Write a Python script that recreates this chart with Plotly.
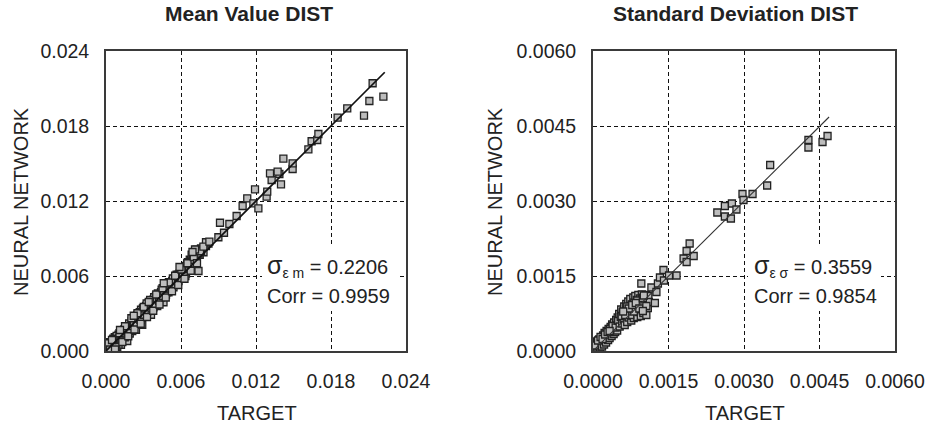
import plotly.graph_objects as go

# ---------------- data ----------------
mean_target = [
    0.0000, 0.0001, 0.0002, 0.0003, 0.0004, 0.0005, 0.0006, 0.0007, 0.0008, 0.0009,
    0.0010, 0.0011, 0.0012, 0.0013, 0.0014, 0.0015, 0.0016, 0.0017, 0.0018, 0.0019,
    0.0020, 0.0021, 0.0022, 0.0023, 0.0024, 0.0025, 0.0026, 0.0027, 0.0028, 0.0029,
    0.0030, 0.0031, 0.0032, 0.0033, 0.0034, 0.0035, 0.0036, 0.0037, 0.0038, 0.0039,
    0.0040, 0.0041, 0.0042, 0.0043, 0.0044, 0.0045, 0.0046, 0.0047, 0.0048, 0.0049,
    0.0050, 0.0051, 0.0052, 0.0053, 0.0054, 0.0055, 0.0056, 0.0057, 0.0058, 0.0059,
    0.0060, 0.0061, 0.0062, 0.0063, 0.0064, 0.0065, 0.0066, 0.0067, 0.0068, 0.0069,
    0.0070, 0.0071, 0.0072, 0.0073, 0.0074, 0.0075, 0.0076, 0.0078, 0.0080, 0.0082,
    0.0003, 0.0005, 0.0008, 0.0010, 0.0012, 0.0015, 0.0017, 0.0020, 0.0022, 0.0024,
    0.0026, 0.0028, 0.0030, 0.0032, 0.0034, 0.0036, 0.0038, 0.0040, 0.0042, 0.0044,
    0.0046, 0.0048, 0.0050, 0.0052, 0.0054, 0.0056, 0.0058, 0.0060, 0.0062, 0.0064,
    0.0066, 0.0068, 0.0070,
    0.00005, 0.00015, 0.00025, 0.00035, 0.00045, 0.00055, 0.00065, 0.00075, 0.00085, 0.00095,
    0.00105, 0.00115, 0.00125, 0.00135, 0.00145, 0.00155, 0.00165, 0.00175, 0.00185, 0.00195,
    0.00205, 0.00215, 0.00225, 0.00235, 0.00245, 0.00255, 0.00265, 0.00275, 0.00285, 0.00295,
    0.00305, 0.00315, 0.00325, 0.00335, 0.00345, 0.00355, 0.00365, 0.00375, 0.00385, 0.00395,
    0.00405, 0.00415, 0.00425, 0.00435, 0.00445, 0.00455, 0.00465, 0.00475, 0.00485, 0.00495,
    0.00505, 0.00515, 0.00525, 0.00535, 0.00545, 0.00555, 0.00565, 0.00575, 0.00585, 0.00595,
    0.00605, 0.00615, 0.00625, 0.00635, 0.00645, 0.00655, 0.00665, 0.00675, 0.00685, 0.00695,
    0.00705, 0.00715, 0.00725, 0.00740, 0.00760, 0.00800,
    0.00012, 0.00033, 0.00058, 0.00082, 0.00108, 0.00131, 0.00152, 0.00178, 0.00203, 0.00228,
    0.00252, 0.00278, 0.00302, 0.00328, 0.00353, 0.00378, 0.00402, 0.00428, 0.00453, 0.00478,
    0.00503, 0.00528, 0.00553, 0.00578, 0.00603, 0.00628, 0.00652, 0.00678, 0.00702, 0.00728,
    0.00752, 0.00712, 0.00692, 0.00588, 0.00462, 0.00342, 0.00222, 0.00112, 0.00048, 0.00072,
    0.00779, 0.00827, 0.00899, 0.00944, 0.00987, 0.00912, 0.01045, 0.01093, 0.01130,
    0.01179, 0.01219, 0.01192, 0.01285, 0.01290, 0.01400, 0.01325, 0.01387, 0.01312,
    0.01373, 0.01493, 0.01493, 0.01419, 0.01619, 0.01645, 0.01690, 0.01699, 0.01853,
    0.01930, 0.02064, 0.02107, 0.02219, 0.02133,
]
mean_nn = [
    0.0001, 0.0003, 0.0000, 0.0005, 0.0002, 0.0008, 0.0004, 0.0011, 0.0006, 0.0003,
    0.0013, 0.0008, 0.0005, 0.0015, 0.0010, 0.0017, 0.0012, 0.0008, 0.0019, 0.0014,
    0.0021, 0.0016, 0.0025, 0.0019, 0.0017, 0.0029, 0.0023, 0.0031, 0.0026, 0.0021,
    0.0034, 0.0028, 0.0036, 0.0031, 0.0038, 0.0033, 0.0029, 0.0040, 0.0035, 0.0042,
    0.0038, 0.0036, 0.0045, 0.0040, 0.0047, 0.0043, 0.0039, 0.0050, 0.0045, 0.0051,
    0.0047, 0.0054, 0.0049, 0.0056, 0.0051, 0.0058, 0.0053, 0.0060, 0.0056, 0.0062,
    0.0058, 0.0064, 0.0060, 0.0067, 0.0062, 0.0070, 0.0065, 0.0073, 0.0069, 0.0076,
    0.0071, 0.0078, 0.0074, 0.0080, 0.0064, 0.0077, 0.0082, 0.0079, 0.0084, 0.0086,
    0.0000, 0.0002, 0.0010, 0.0005, 0.0012, 0.0011, 0.0015, 0.0018, 0.0020, 0.0027,
    0.0028, 0.0033, 0.0030, 0.0032, 0.0034, 0.0037, 0.0041, 0.0044, 0.0041, 0.0043,
    0.0048, 0.0049, 0.0052, 0.0055, 0.0056, 0.0059, 0.0061, 0.0063, 0.0066, 0.0068,
    0.0068, 0.0072, 0.0075,
    0.0004, 0.0001, 0.0007, 0.0003, 0.0006, 0.0001, 0.0009, 0.0005, 0.0012, 0.0008,
    0.0010, 0.0014, 0.0009, 0.0012, 0.0017, 0.0014, 0.0018, 0.0013, 0.0022, 0.0017,
    0.0024, 0.0020, 0.0022, 0.0027, 0.0022, 0.0026, 0.0030, 0.0025, 0.0031, 0.0034,
    0.0029, 0.0034, 0.0038, 0.0032, 0.0036, 0.0040, 0.0034, 0.0038, 0.0043, 0.0037,
    0.0042, 0.0046, 0.0040, 0.0045, 0.0049, 0.0044, 0.0048, 0.0053, 0.0047, 0.0050,
    0.0055, 0.0050, 0.0053, 0.0058, 0.0053, 0.0056, 0.0061, 0.0055, 0.0059, 0.0064,
    0.0058, 0.0062, 0.0065, 0.0060, 0.0066, 0.0071, 0.0067, 0.0070, 0.0077, 0.0073,
    0.0079, 0.0076, 0.0081, 0.0078, 0.0080, 0.0087,
    0.00062, 0.00012, 0.00098, 0.00032, 0.00142, 0.00072, 0.00198, 0.00118, 0.00262, 0.00172,
    0.00302, 0.00218, 0.00352, 0.00272, 0.00408, 0.00322, 0.00452, 0.00372, 0.00502, 0.00428,
    0.00548, 0.00478, 0.00602, 0.00528, 0.00652, 0.00578, 0.00702, 0.00642, 0.00752, 0.00702,
    0.00798, 0.00812, 0.00792, 0.00672, 0.00542, 0.00392, 0.00282, 0.00168, 0.00088, 0.00012,
    0.00835, 0.00875, 0.00910, 0.00946, 0.01016, 0.01026, 0.01080, 0.01160, 0.01221,
    0.01181, 0.01141, 0.01293, 0.01235, 0.01275, 0.01333, 0.01368, 0.01416, 0.01421,
    0.01435, 0.01456, 0.01501, 0.01539, 0.01613, 0.01678, 0.01688, 0.01736, 0.01867,
    0.01941, 0.01883, 0.02000, 0.02035, 0.02142,
]
mean_fit_x = [0.0, 0.0223]
mean_fit_y = [0.0, 0.0223]

std_target = [
    # lower band
    0.00000, 0.00002, 0.00004, 0.00005, 0.00007, 0.00008, 0.00009, 0.00011, 0.00012, 0.00013,
    0.00014, 0.00016, 0.00017, 0.00018, 0.00020, 0.00021, 0.00022, 0.00023, 0.00025, 0.00026,
    0.00027, 0.00028, 0.00030, 0.00031, 0.00032, 0.00033, 0.00035, 0.00036, 0.00037, 0.00038,
    0.00040, 0.00041, 0.00042, 0.00043, 0.00044, 0.00046, 0.00047, 0.00048, 0.00049,
    0.00003, 0.00010, 0.00015, 0.00019, 0.00024, 0.00029, 0.00034, 0.00039, 0.00045, 0.00033,
    # blob
    0.00050, 0.00052, 0.00053, 0.00055, 0.00056, 0.00058, 0.00059, 0.00061, 0.00062, 0.00063,
    0.00065, 0.00066, 0.00067, 0.00068, 0.00070, 0.00071, 0.00072, 0.00073, 0.00074, 0.00076,
    0.00077, 0.00078, 0.00079, 0.00080, 0.00081, 0.00082, 0.00083, 0.00084, 0.00085, 0.00086,
    0.00087, 0.00088, 0.00089, 0.00090, 0.00091, 0.00092, 0.00093, 0.00094, 0.00095, 0.00096,
    0.00097, 0.00098, 0.00099, 0.00100, 0.00101, 0.00102, 0.00103, 0.00104, 0.00105, 0.00106,
    0.00107, 0.00108, 0.00109, 0.00110, 0.00111, 0.00068, 0.00074, 0.00081, 0.00088, 0.00095,
    0.00057, 0.00064, 0.00071, 0.00078, 0.00085, 0.00092, 0.00099, 0.00106, 0.00099, 0.00060,
    # sparse
    0.00096, 0.00101, 0.00116, 0.00126, 0.00123, 0.00129, 0.00133, 0.00141, 0.00140, 0.00151,
    0.00166, 0.00180, 0.00186, 0.00186, 0.00192, 0.00200, 0.00247, 0.00262, 0.00262, 0.00274,
    0.00276, 0.00285, 0.00297, 0.00299, 0.00317, 0.00346, 0.00352, 0.00428, 0.00428, 0.00456,
    0.00466,
]
std_nn = [
    0.00000, 0.00006, 0.00001, 0.00013, 0.00004, 0.00019, 0.00010, 0.00002, 0.00023, 0.00014,
    0.00007, 0.00026, 0.00017, 0.00009, 0.00031, 0.00021, 0.00013, 0.00036, 0.00026, 0.00017,
    0.00040, 0.00031, 0.00022, 0.00044, 0.00035, 0.00026, 0.00048, 0.00039, 0.00030, 0.00053,
    0.00043, 0.00034, 0.00057, 0.00047, 0.00038, 0.00062, 0.00051, 0.00041, 0.00067,
    0.00011, 0.00021, 0.00028, 0.00024, 0.00033, 0.00038, 0.00044, 0.00050, 0.00047, 0.00040,
    0.00061, 0.00074, 0.00049, 0.00068, 0.00083, 0.00055, 0.00077, 0.00064, 0.00089, 0.00052,
    0.00071, 0.00094, 0.00082, 0.00058, 0.00099, 0.00067, 0.00087, 0.00076, 0.00104, 0.00061,
    0.00093, 0.00071, 0.00081, 0.00107, 0.00066, 0.00097, 0.00086, 0.00110, 0.00075, 0.00091,
    0.00102, 0.00068, 0.00083, 0.00112, 0.00095, 0.00078, 0.00105, 0.00088, 0.00070, 0.00100,
    0.00113, 0.00084, 0.00094, 0.00076, 0.00108, 0.00089, 0.00099, 0.00082, 0.00112, 0.00072,
    0.00094, 0.00104, 0.00086, 0.00110, 0.00098, 0.00089, 0.00072, 0.00079, 0.00101, 0.00091,
    0.00070, 0.00072, 0.00085, 0.00092, 0.00096, 0.00085, 0.00106, 0.00090, 0.00080, 0.00079,
    0.00135, 0.00111, 0.00127, 0.00118, 0.00096, 0.00135, 0.00147, 0.00141, 0.00162, 0.00151,
    0.00151, 0.00185, 0.00178, 0.00200, 0.00215, 0.00190, 0.00277, 0.00290, 0.00269, 0.00265,
    0.00295, 0.00283, 0.00314, 0.00302, 0.00314, 0.00331, 0.00372, 0.00407, 0.00422, 0.00418,
    0.00430,
]
std_fit_x = [0.0, 0.00469]
std_fit_y = [0.0, 0.00468]

mean_ticks = [0.0, 0.006, 0.012, 0.018, 0.024]
mean_ticktext = ["0.000", "0.006", "0.012", "0.018", "0.024"]
std_ticks = [0.0, 0.0015, 0.003, 0.0045, 0.006]
std_ticktext = ["0.0000", "0.0015", "0.0030", "0.0045", "0.0060"]

titles = ["Mean Value DIST", "Standard Deviation DIST"]
stat_sigma = ["ε m", "ε σ"]
stat_values = ["0.2206", "0.3559"]
stat_corr = ["0.9959", "0.9854"]

# ---------------- figure ----------------
W, H = 925, 431
FONT = "Liberation Sans, Arial, sans-serif"
TXT = "#222222"


def px(x):
    return x / W


def py(y):
    return 1 - y / H


fig = go.Figure()
marker = dict(symbol="square", size=7, color="#bdbdbd",
              line=dict(color="#222222", width=1.3))

fig.add_trace(go.Scatter(x=mean_target, y=mean_nn, mode="markers", marker=marker,
                         xaxis="x", yaxis="y", showlegend=False))
fig.add_trace(go.Scatter(x=mean_fit_x, y=mean_fit_y, mode="lines",
                         line=dict(color="#111111", width=1.7),
                         xaxis="x", yaxis="y", showlegend=False))
fig.add_trace(go.Scatter(x=std_target, y=std_nn, mode="markers", marker=marker,
                         xaxis="x2", yaxis="y2", showlegend=False))
fig.add_trace(go.Scatter(x=std_fit_x, y=std_fit_y, mode="lines",
                         line=dict(color="#333333", width=1.1),
                         xaxis="x2", yaxis="y2", showlegend=False))

ydom = [py(351), py(51)]
axis_common = dict(
    showline=True, mirror=True, linecolor="#3a3a3a", linewidth=1.8,
    showgrid=True, gridcolor="#111111", gridwidth=1.3, griddash="4px,3px",
    zeroline=False, ticks="", tickfont=dict(family=FONT, size=19.5, color=TXT),
    tickmode="array", fixedrange=True, automargin=False,
)

fig.update_layout(
    width=W, height=H, margin=dict(l=0, r=0, t=0, b=0, autoexpand=False),
    paper_bgcolor="white", plot_bgcolor="white",
    xaxis=dict(domain=[px(106), px(406)], range=[0, 0.024], tickvals=mean_ticks,
               ticktext=mean_ticktext, anchor="y", ticklabelstandoff=12, **axis_common),
    yaxis=dict(domain=ydom, range=[0, 0.024], tickvals=mean_ticks,
               ticktext=mean_ticktext, anchor="x", ticklabelstandoff=11, **axis_common),
    xaxis2=dict(domain=[px(593), px(895)], range=[0, 0.006], tickvals=std_ticks,
                ticktext=std_ticktext, anchor="y2", ticklabelstandoff=12, **axis_common),
    yaxis2=dict(domain=ydom, range=[0, 0.006], tickvals=std_ticks,
                ticktext=std_ticktext, anchor="x2", ticklabelstandoff=11, **axis_common),
)

# white boxes behind statistics text (interrupt the grid lines)
for x0, x1 in [(262, 398), (748, 881)]:
    fig.add_shape(type="rect", xref="paper", yref="paper",
                  x0=px(x0), x1=px(x1), y0=py(311), y1=py(246),
                  fillcolor="white", line=dict(width=0), layer="above")

annotations = []


def add_text(text, x, y, size, xanchor="center", angle=0):
    annotations.append(dict(xref="paper", yref="paper", showarrow=False,
                            xanchor=xanchor, yanchor="middle", x=x, y=y,
                            text=text, textangle=angle,
                            font=dict(family=FONT, size=size, color=TXT)))


# titles
add_text("<b>" + titles[0] + "</b>", px(249), py(14), 21)
add_text("<b>" + titles[1] + "</b>", px(735), py(14), 21)
# axis titles
for xc in (257, 745):
    add_text("TARGET", px(xc), py(413), 20)
for xc in (21, 495):
    add_text("NEURAL NETWORK", px(xc), py(202), 20, angle=-90)
# statistics
for xl, sub, val, corr in zip((265, 752), stat_sigma, stat_values, stat_corr):
    add_text('<span style="font-size:25px">σ</span><sub>' + sub + '</sub> = ' + val,
             px(xl), py(266), 20, xanchor="left")
    add_text("Corr = " + corr, px(xl), py(296), 20, xanchor="left")

fig.update_layout(annotations=annotations)

fig.write_html("out.html")
